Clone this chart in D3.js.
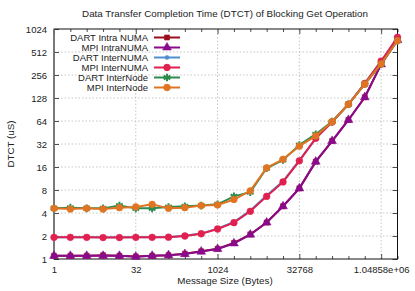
<!DOCTYPE html>
<html>
<head>
<meta charset="utf-8">
<script src="https://cdn.jsdelivr.net/npm/d3@7"></script>
<style>
body { margin: 0; background: #fff; }
svg { font-family: "Liberation Sans", Arial, sans-serif; }
</style>
</head>
<body>
<script>
// message sizes 2^0 .. 2^21 bytes
var sizes = d3.range(22).map(i => Math.pow(2, i))

// DTCT values in microseconds
var dartIntraNuma = [1.1, 1.1, 1.1, 1.12, 1.1, 1.08, 1.1, 1.12, 1.17, 1.26, 1.36, 1.62, 2.1, 3.0, 4.9, 8.4, 18.8, 35, 66, 131, 355, 760]
var mpiIntraNuma  = [1.1, 1.1, 1.1, 1.1, 1.1, 1.07, 1.1, 1.12, 1.16, 1.25, 1.35, 1.6, 2.08, 3.0, 4.9, 8.4, 18.8, 35, 66, 131, 353, 735]
var dartInterNuma = [1.92, 1.92, 1.92, 1.92, 1.92, 1.92, 1.93, 1.94, 2.01, 2.15, 2.5, 3.05, 4.3, 6.8, 10.4, 19.5, 38, 62, 106, 198, 385, 780]
var mpiInterNuma  = [1.92, 1.92, 1.92, 1.91, 1.91, 1.92, 1.92, 1.93, 2.0, 2.14, 2.47, 2.99, 4.21, 6.6, 10.2, 19.3, 38, 62, 106, 199, 390, 798]
var dartInterNode = [4.6, 4.7, 4.6, 4.6, 5.0, 4.6, 4.6, 4.8, 4.9, 5.0, 5.2, 6.6, 7.5, 15.4, 19.8, 31, 43, 63, 106, 194, 357, 719]
var mpiInterNode  = [4.6, 4.5, 4.6, 4.5, 4.7, 4.8, 5.2, 4.6, 4.7, 5.0, 5.1, 6.0, 7.8, 15.6, 20.2, 30, 40.8, 62.6, 106, 194, 357, 719]

var seriesNames = ['DART Intra NUMA', 'MPI IntraNUMA', 'DART InterNUMA', 'MPI InterNUMA', 'DART InterNode', 'MPI InterNode']
var seriesValues = [dartIntraNuma, mpiIntraNuma, dartInterNuma, mpiInterNuma, dartInterNode, mpiInterNode]
var colors = ['#9b0e1e', '#8a0a8c', '#4f8fcf', '#e0214f', '#2e8b4f', '#e07422']
var markers = ['square', 'triangle', 'smallcircle', 'circle', 'star', 'circle']

var xTicks = [1, 32, 1024, 32768, 1048576]
var xTickLabels = ['1', '32', '1024', '32768', '1.04858e+06']
var yTicks = [1, 2, 4, 8, 16, 32, 64, 128, 256, 512, 1024]

var width = 415, height = 291
var margin = { top: 29, right: 17.5, bottom: 32, left: 54 }

var x = d3.scaleLog().base(2).domain([1, Math.pow(2, 21)]).range([margin.left, width - margin.right])
var y = d3.scaleLog().base(2).domain([1, 1024]).range([height - margin.bottom, margin.top])

var svg = d3.select('body').append('svg')
    .attr('width', width)
    .attr('height', height)

// grid
svg.append('g').selectAll('line').data(yTicks.slice(1, -1)).join('line')
    .attr('x1', x.range()[0]).attr('x2', x.range()[1])
    .attr('y1', d => y(d)).attr('y2', d => y(d))
    .attr('stroke', '#b8b8b8').attr('stroke-width', 0.8).attr('stroke-dasharray', '1.5,2')
svg.append('g').selectAll('line').data(xTicks.slice(1)).join('line')
    .attr('x1', d => x(d)).attr('x2', d => x(d))
    .attr('y1', y.range()[0]).attr('y2', y.range()[1])
    .attr('stroke', '#b8b8b8').attr('stroke-width', 0.8).attr('stroke-dasharray', '1.5,2')

// axes, ticks inward like gnuplot
var yBottom = y.range()[0], yTop = y.range()[1]
var xLeft = x.range()[0], xRight = x.range()[1]

var minorX = sizes.filter(d => xTicks.indexOf(d) < 0)

var xAxis = svg.append('g')
    .attr('transform', 'translate(0,' + yBottom + ')')
    .call(d3.axisBottom(x).tickValues(xTicks).tickFormat((d, i) => xTickLabels[i]).tickSizeInner(-5).tickSizeOuter(0).tickPadding(7))
xAxis.select('.domain').remove()
xAxis.selectAll('text').attr('font-size', 9.5).attr('fill', '#222')

svg.append('g')
    .attr('transform', 'translate(0,' + yBottom + ')')
    .call(d3.axisBottom(x).tickValues(minorX).tickFormat('').tickSizeInner(-3).tickSizeOuter(0))
    .select('.domain').remove()
svg.append('g')
    .attr('transform', 'translate(0,' + yTop + ')')
    .call(d3.axisTop(x).tickValues(xTicks).tickFormat('').tickSizeInner(-5).tickSizeOuter(0))
    .select('.domain').remove()
svg.append('g')
    .attr('transform', 'translate(0,' + yTop + ')')
    .call(d3.axisTop(x).tickValues(minorX).tickFormat('').tickSizeInner(-3).tickSizeOuter(0))
    .select('.domain').remove()

var yAxis = svg.append('g')
    .attr('transform', 'translate(' + xLeft + ',0)')
    .call(d3.axisLeft(y).tickValues(yTicks).tickFormat(d3.format('d')).tickSizeInner(-5).tickSizeOuter(0).tickPadding(7))
yAxis.select('.domain').remove()
yAxis.selectAll('text').attr('font-size', 9.5).attr('fill', '#222')
svg.append('g')
    .attr('transform', 'translate(' + xRight + ',0)')
    .call(d3.axisRight(y).tickValues(yTicks).tickFormat('').tickSizeInner(-5).tickSizeOuter(0))
    .select('.domain').remove()

svg.selectAll('.tick line').attr('stroke', '#222').attr('stroke-width', 0.8)

// border
svg.append('rect')
    .attr('x', xLeft).attr('y', yTop)
    .attr('width', xRight - xLeft).attr('height', yBottom - yTop)
    .attr('fill', 'none').attr('stroke', '#111').attr('stroke-width', 1)
svg.append('line')
    .attr('x1', xLeft).attr('x2', xLeft).attr('y1', yTop).attr('y2', yBottom)
    .attr('stroke', '#777').attr('stroke-width', 1.6)

function markerPath(type) {
    if (type == 'square') return d3.symbol(d3.symbolSquare, 26)()
    if (type == 'triangle') return d3.symbol(d3.symbolTriangle, 34)()
    if (type == 'smallcircle') return d3.symbol(d3.symbolCircle, 14)()
    if (type == 'circle') return d3.symbol(d3.symbolCircle, 36)()
    if (type == 'star') return d3.symbol(d3.symbolAsterisk, 40)()
    return d3.symbol(d3.symbolCircle, 30)()
}

var line = d3.line()
    .x((d, i) => x(sizes[i]))
    .y(d => y(d))

seriesValues.forEach((vals, k) => {
    var g = svg.append('g')
    g.append('path')
        .datum(vals)
        .attr('d', line)
        .attr('fill', 'none')
        .attr('stroke', colors[k])
        .attr('stroke-width', 2)
    g.selectAll('path.m').data(vals).join('path')
        .attr('class', 'm')
        .attr('d', markerPath(markers[k]))
        .attr('transform', (d, i) => 'translate(' + x(sizes[i]) + ',' + y(d) + ')')
        .attr('fill', colors[k])
        .attr('stroke', colors[k])
        .attr('stroke-width', markers[k] == 'star' ? 2 : 0.5)
})

// legend
var legend = svg.append('g')
seriesNames.forEach((name, k) => {
    var ly = 37.5 + k * 10
    legend.append('text')
        .attr('x', 148).attr('y', ly).attr('dy', '0.35em')
        .attr('text-anchor', 'end')
        .attr('font-size', 9.5).attr('fill', '#222')
        .text(name)
    legend.append('line')
        .attr('x1', 154).attr('x2', 180).attr('y1', ly).attr('y2', ly)
        .attr('stroke', colors[k]).attr('stroke-width', 2)
    legend.append('path')
        .attr('d', markerPath(markers[k]))
        .attr('transform', 'translate(167,' + ly + ')')
        .attr('fill', colors[k]).attr('stroke', colors[k])
        .attr('stroke-width', markers[k] == 'star' ? 2 : 0.5)
})

// title and axis labels
svg.append('text')
    .attr('x', 225).attr('y', 17)
    .attr('text-anchor', 'middle')
    .attr('font-size', 9.8).attr('fill', '#222')
    .text('Data Transfer Completion Time (DTCT) of Blocking Get Operation')
svg.append('text')
    .attr('x', 225).attr('y', 284)
    .attr('text-anchor', 'middle')
    .attr('font-size', 9.8).attr('fill', '#222')
    .text('Message Size (Bytes)')
svg.append('text')
    .attr('transform', 'translate(14,' + 144 + ') rotate(-90)')
    .attr('text-anchor', 'middle')
    .attr('font-size', 9.8).attr('fill', '#222')
    .text('DTCT (uS)')
</script>
</body>
</html>
